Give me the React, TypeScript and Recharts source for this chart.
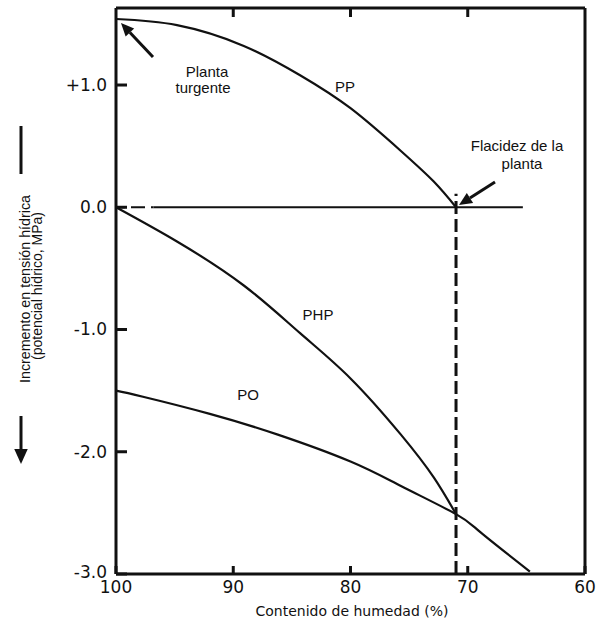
import { LineChart, Line, XAxis, YAxis } from 'recharts';

// Contenido de humedad (%) / potencial (MPa)
const ppMoisture = [100, 94.8, 89.1, 84.3, 80.0, 75.7, 72.9, 71.0];
const ppValues = [1.54, 1.49, 1.32, 1.08, 0.81, 0.46, 0.21, 0];

const phpMoisture = [100, 94.8, 89.1, 84.3, 80.0, 75.7, 72.9, 71.0];
const phpValues = [0, -0.28, -0.64, -1.03, -1.4, -1.86, -2.21, -2.51];

const poMoisture = [100, 97.7, 92.0, 86.2, 80.0, 75.7, 71.0, 68.9, 64.7];
const poValues = [-1.5, -1.55, -1.69, -1.86, -2.08, -2.28, -2.51, -2.66, -2.98];

const zeroDashedMoisture = [100, 96.8];
const zeroSolidMoisture = [96.8, 65.3];
const wiltMoisture = [71.0, 71.0];
const wiltValues = [-3, 0.11];

const xTicks = [100, 90, 80, 70, 60];
const xTopTicks = [90, 80, 70];
const yTicks = [1, 0, -1, -2, -3];
const yTickLabels: Record<string, string> = { '1': '+1.0', '0': '0.0', '-1': '-1.0', '-2': '-2.0', '-3': '-3.0' };
const Y_MIN = -3;
const Y_MAX = 1.63;

// area de trazado (px) para las marcas del borde superior
const PLOT_LEFT = 116;
const PLOT_RIGHT = 585;
const PLOT_TOP = 8;

const zip = (xs: number[], ys: number[]) => xs.map((x, i) => ({ x, y: ys[i] }));

const INK = '#111';
const TICK_FONT = '"DejaVu Sans", Verdana, sans-serif';
const NOTE_FONT = '"Liberation Sans", Arial, sans-serif';

const XTick = ({ x, y, payload }: any) => (
  <g>
    <line x1={x} x2={x} y1={y} y2={y - 8} stroke={INK} strokeWidth={3} />
    <text x={x} y={y + 19} textAnchor="middle" fontSize={17} fontFamily={TICK_FONT} fill={INK}>
      {payload.value}
    </text>
  </g>
);

const YTick = ({ x, y, payload }: any) => (
  <g>
    <line x1={x} x2={x + 11} y1={y} y2={y} stroke={INK} strokeWidth={3} />
    <text
      x={x - 9}
      y={payload.value === -3 ? y - 2 : y}
      dy="0.35em"
      textAnchor="end"
      fontSize={17}
      fontFamily={TICK_FONT}
      fill={INK}
    >
      {yTickLabels[String(payload.value)]}
    </text>
  </g>
);

function Arrow({ x1, y1, x2, y2, head = 12 }: { x1: number; y1: number; x2: number; y2: number; head?: number }) {
  const a = Math.atan2(y2 - y1, x2 - x1);
  const bx = x2 - head * Math.cos(a);
  const by = y2 - head * Math.sin(a);
  const w = head * 0.45;
  const p1 = `${bx + w * Math.sin(a)},${by - w * Math.cos(a)}`;
  const p2 = `${bx - w * Math.sin(a)},${by + w * Math.cos(a)}`;
  return (
    <g>
      <line x1={x1} y1={y1} x2={bx} y2={by} stroke={INK} strokeWidth={3} />
      <polygon points={`${x2},${y2} ${p1} ${p2}`} fill={INK} />
    </g>
  );
}

export default function App() {
  const lineProps = {
    dataKey: 'y',
    stroke: INK,
    strokeWidth: 2.2,
    dot: false,
    isAnimationActive: false,
    type: 'natural' as const,
  };

  const topTickX = (v: number) => PLOT_LEFT + ((100 - v) / 40) * (PLOT_RIGHT - PLOT_LEFT);

  return (
    <div style={{ position: 'absolute', left: 0, top: 0, width: 608, height: 620, background: '#fff' }}>
      <LineChart width={608} height={620} margin={{ top: 7, right: 22, left: 0, bottom: 0 }}>
        <XAxis
          type="number"
          dataKey="x"
          domain={[60, 100]}
          reversed
          ticks={xTicks}
          interval={0}
          height={46}
          tickSize={0}
          tickMargin={0}
          tick={<XTick />}
          axisLine={{ stroke: INK, strokeWidth: 3 }}
        />
        <XAxis
          xAxisId="top"
          orientation="top"
          type="number"
          domain={[60, 100]}
          reversed
          height={1}
          tick={false}
          tickLine={false}
          axisLine={{ stroke: INK, strokeWidth: 3 }}
        />
        <YAxis
          type="number"
          domain={[Y_MIN, Y_MAX]}
          ticks={yTicks}
          interval={0}
          width={116}
          tickSize={0}
          tickMargin={0}
          tick={<YTick />}
          axisLine={{ stroke: INK, strokeWidth: 3 }}
        />
        <YAxis
          yAxisId="right"
          orientation="right"
          type="number"
          domain={[Y_MIN, Y_MAX]}
          width={1}
          tick={false}
          tickLine={false}
          axisLine={{ stroke: INK, strokeWidth: 3 }}
        />

        {/* linea de cero: tramo discontinuo y tramo continuo */}
        <Line {...lineProps} type="linear" strokeWidth={2} strokeDasharray="9 6 14 6" data={zip(zeroDashedMoisture, [0, 0])} />
        <Line {...lineProps} type="linear" strokeWidth={2} data={zip(zeroSolidMoisture, [0, 0])} />

        {/* flacidez de la planta */}
        <Line {...lineProps} type="linear" strokeWidth={3} strokeDasharray="13 5" data={zip(wiltMoisture, wiltValues)} />

        <Line {...lineProps} data={zip(ppMoisture, ppValues)} />
        <Line {...lineProps} data={zip(phpMoisture, phpValues)} />
        <Line {...lineProps} data={zip(poMoisture, poValues)} />
      </LineChart>

      {/* anotaciones */}
      <svg
        width={608}
        height={620}
        style={{ position: 'absolute', left: 0, top: 0, pointerEvents: 'none' }}
      >
        {xTopTicks.map((t) => (
          <line
            key={t}
            x1={topTickX(t)}
            x2={topTickX(t)}
            y1={PLOT_TOP}
            y2={PLOT_TOP + 9}
            stroke={INK}
            strokeWidth={3}
          />
        ))}

        <g fontFamily={NOTE_FONT} fontSize={15} fill={INK} textAnchor="middle">
          <text x={207} y={77}>Planta</text>
          <text x={203} y={93}>turgente</text>
          <text x={345} y={92}>PP</text>
          <text x={318} y={320}>PHP</text>
          <text x={248} y={400}>PO</text>
          <text x={517} y={151}>Flacidez de la</text>
          <text x={522} y={169}>planta</text>
        </g>
        <Arrow x1={153} y1={57} x2={121} y2={23} head={13} />
        <Arrow x1={495} y1={182} x2={459} y2={205} head={13} />

        <text
          transform="translate(30,289) rotate(-90)"
          textAnchor="middle"
          fontFamily={NOTE_FONT}
          fontSize={14}
          fill={INK}
          textLength={188}
          lengthAdjust="spacingAndGlyphs"
        >
          Incremento en tensión hídrica
        </text>
        <text
          transform="translate(42,286) rotate(-90)"
          textAnchor="middle"
          fontFamily={NOTE_FONT}
          fontSize={14}
          fill={INK}
          textLength={148}
          lengthAdjust="spacingAndGlyphs"
        >
          (potencial hídrico, MPa)
        </text>

        <line x1={21} x2={21} y1={126} y2={174} stroke={INK} strokeWidth={3} />
        <Arrow x1={21} y1={416} x2={21} y2={464} head={15} />

        <text x={352} y={616} textAnchor="middle" fontFamily={TICK_FONT} fontSize={14} fill={INK}>
          Contenido de humedad (%)
        </text>
      </svg>
    </div>
  );
}
